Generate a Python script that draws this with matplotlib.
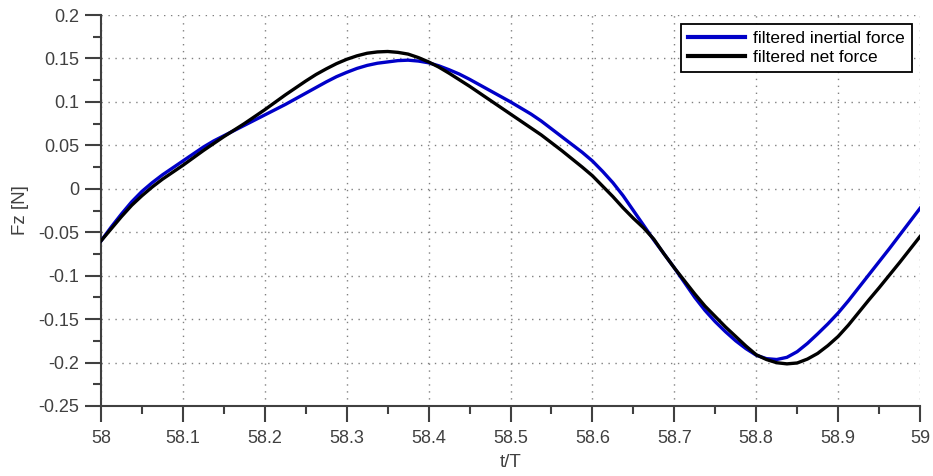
import numpy as np
import matplotlib
matplotlib.use("Agg")
import matplotlib.pyplot as plt
from matplotlib.ticker import MultipleLocator

t = [58.0000, 58.0125, 58.0250, 58.0375, 58.0500, 58.0625, 58.0750, 58.0875,
     58.1000, 58.1125, 58.1250, 58.1375, 58.1500, 58.1625, 58.1750, 58.1875,
     58.2000, 58.2125, 58.2250, 58.2375, 58.2500, 58.2625, 58.2750, 58.2875,
     58.3000, 58.3125, 58.3250, 58.3375, 58.3500, 58.3625, 58.3750, 58.3875,
     58.4000, 58.4125, 58.4250, 58.4375, 58.4500, 58.4625, 58.4750, 58.4875,
     58.5000, 58.5125, 58.5250, 58.5375, 58.5500, 58.5625, 58.5750, 58.5875,
     58.6000, 58.6125, 58.6250, 58.6375, 58.6500, 58.6625, 58.6750, 58.6875,
     58.7000, 58.7125, 58.7250, 58.7375, 58.7500, 58.7625, 58.7750, 58.7875,
     58.8000, 58.8125, 58.8250, 58.8375, 58.8500, 58.8625, 58.8750, 58.8875,
     58.9000, 58.9125, 58.9250, 58.9375, 58.9500, 58.9625, 58.9750, 58.9875,
     59.0000]

inertial = [-0.060, -0.044, -0.029, -0.015, -0.003, 0.007, 0.016, 0.024,
            0.032, 0.040, 0.048, 0.055, 0.061, 0.067, 0.073, 0.079,
            0.085, 0.091, 0.097, 0.1035, 0.110, 0.1165, 0.123, 0.129,
            0.134, 0.1385, 0.142, 0.1445, 0.146, 0.1475, 0.148, 0.147,
            0.145, 0.1415, 0.137, 0.132, 0.126, 0.1195, 0.113, 0.1065,
            0.100, 0.093, 0.086, 0.078, 0.069, 0.060, 0.051, 0.042,
            0.032, 0.020, 0.007, -0.008, -0.025, -0.042, -0.059, -0.075,
            -0.091, -0.108, -0.125, -0.140, -0.153, -0.1645, -0.175, -0.184,
            -0.1915, -0.1955, -0.1965, -0.194, -0.1875, -0.178, -0.167, -0.1555,
            -0.143, -0.129, -0.114, -0.099, -0.084, -0.069, -0.0535, -0.038,
            -0.0225]

net = [-0.060, -0.046, -0.032, -0.019, -0.008, 0.002, 0.011, 0.019,
       0.027, 0.0355, 0.044, 0.052, 0.060, 0.0675, 0.075, 0.083,
       0.091, 0.0995, 0.108, 0.116, 0.124, 0.1315, 0.138, 0.144,
       0.149, 0.153, 0.156, 0.1575, 0.158, 0.157, 0.155, 0.151,
       0.146, 0.140, 0.133, 0.1255, 0.118, 0.110, 0.102, 0.094,
       0.086, 0.078, 0.070, 0.062, 0.053, 0.044, 0.0345, 0.025,
       0.015, 0.003, -0.009, -0.022, -0.034, -0.045, -0.058, -0.075,
       -0.091, -0.106, -0.121, -0.135, -0.147, -0.159, -0.170, -0.181,
       -0.191, -0.1965, -0.2002, -0.2015, -0.2005, -0.196, -0.1895, -0.1805,
       -0.170, -0.157, -0.1425, -0.128, -0.114, -0.0995, -0.085, -0.070,
       -0.055]

labels = ["filtered inertial force", "filtered net force"]
colors = ["#0000c8", "#000000"]

plt.rcParams['font.family'] = ['Liberation Sans', 'DejaVu Sans']

fig = plt.figure(figsize=(9.33, 4.76), dpi=100)
ax = fig.add_axes([101/933, 1-406/476, (920-101)/933, (406-15)/476])

ax.plot(t, inertial, color=colors[0], lw=2.4, label=labels[0], zorder=3,
        solid_joinstyle='round')
ax.plot(t, net, color=colors[1], lw=2.4, label=labels[1], zorder=4,
        solid_joinstyle='round')

ax.set_xlim(58, 59)
ax.set_ylim(-0.25, 0.2)
ax.xaxis.set_major_locator(MultipleLocator(0.1))
ax.xaxis.set_minor_locator(MultipleLocator(0.05))
ax.yaxis.set_major_locator(MultipleLocator(0.05))
ax.yaxis.set_minor_locator(MultipleLocator(0.025))

def fmt(v, pos):
    s = f"{v:.3f}".rstrip('0').rstrip('.')
    if s == "-0":
        s = "0"
    return s
ax.xaxis.set_major_formatter(plt.FuncFormatter(fmt))
ax.yaxis.set_major_formatter(plt.FuncFormatter(fmt))

for s in ['top', 'right']:
    ax.spines[s].set_visible(False)
for s in ['left', 'bottom']:
    ax.spines[s].set_color('#404040')
    ax.spines[s].set_linewidth(1.5)

ax.tick_params(which='major', direction='out', length=11.5, width=1.5,
               color='#404040', labelsize=13, labelcolor='#404040')
ax.tick_params(which='minor', direction='out', length=5.5, width=1.5,
               color='#404040')
ax.tick_params(axis='x', which='major', pad=6)
ax.tick_params(axis='y', which='major', pad=4)

ax.grid(True, which='major', color='#808080', linestyle=(0, (1, 4)), lw=1.0)
ax.set_axisbelow(True)

ax.set_xlabel("t/T", fontsize=13.5, color='#404040', labelpad=5)
ax.set_ylabel("Fz [N]", fontsize=13.5, color='#404040', labelpad=7)

leg = ax.legend(loc='upper right', bbox_to_anchor=(0.990, 0.977),
                fontsize=12.5, frameon=True, fancybox=False, framealpha=1,
                edgecolor='black', handlelength=3.3, borderpad=0.4,
                labelspacing=0.2, handletextpad=0.45, borderaxespad=0)
leg.get_frame().set_linewidth(1.3)
for line in leg.get_lines():
    line.set_linewidth(3.0)

fig.savefig("out.png", dpi=100)
